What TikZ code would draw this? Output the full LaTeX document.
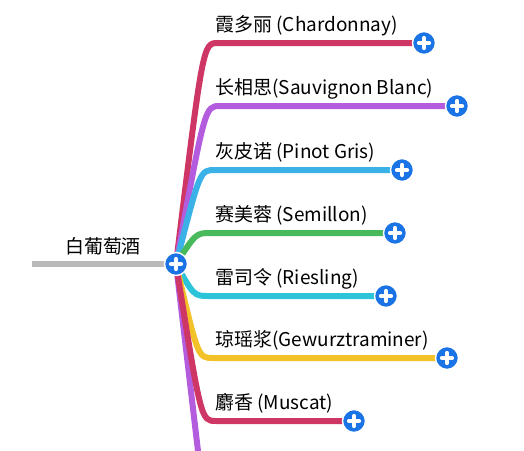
\documentclass[tikz,border=0pt]{standalone}
\usepackage{fontspec}
\newfontfamily\cjk{Noto Sans CJK SC}
\usetikzlibrary{backgrounds}
\definecolor{crimson}{RGB}{206,54,102}
\definecolor{violet}{RGB}{180,92,222}
\definecolor{skyblue}{RGB}{58,178,232}
\definecolor{leafgreen}{RGB}{72,186,92}
\definecolor{aqua}{RGB}{44,196,216}
\definecolor{amber}{RGB}{242,194,40}
\definecolor{btnblue}{RGB}{26,116,230}
\definecolor{rootgray}{RGB}{186,186,186}
\tikzset{
  branch/.style={line width=0.12cm},
  rootline/.style={line width=0.12cm, rootgray},
  plusbtn/.style={circle, fill=btnblue, draw=white, line width=0.8pt,
    minimum size=0.46cm, inner sep=0pt,
    path picture={
      \draw[white, line width=2.4pt, line cap=round]
        ([xshift=-0.1cm]path picture bounding box.center) -- ([xshift=0.1cm]path picture bounding box.center)
        ([yshift=-0.1cm]path picture bounding box.center) -- ([yshift=0.1cm]path picture bounding box.center);
    }},
  grape/.style={anchor=base west, inner sep=0pt}
}
\begin{document}
\begin{tikzpicture}[x=0.02cm, y=-0.02cm, line join=round, line cap=round, font=\cjk\fontsize{10.8}{13}\selectfont]
  \useasboundingbox (0,0) rectangle (524,450);
  \clip (0,0) rectangle (524,450);
  \coordinate (root) at (32,264);
  \coordinate (tail) at (200,468);
  \node[plusbtn] (hub) at (176,264) {};
  \node[anchor=base, inner sep=0pt] (wine) at (103,253) {白葡萄酒};
  \begin{scope}[on background layer]
    \draw[rootline] (root) -- (hub.center);
    \draw[branch, violet] (hub.center) -- (tail);
  \end{scope}
  \foreach \n/\y/\xe/\xc/\col/\txt in {
      chard/43/424/203/crimson/{霞多丽 (Chardonnay)},
      sauv/106/457/205/violet/{长相思(Sauvignon Blanc)},
      pinot/170/402/200/skyblue/{灰皮诺 (Pinot Gris)},
      semil/233/395/196/leafgreen/{赛美蓉 (Semillon)},
      ries/296/386/194/aqua/{雷司令 (Riesling)},
      gewu/358/447/198/amber/{琼瑶浆(Gewurztraminer)},
      musc/421/354/201/crimson/{麝香 (Muscat)}} {
    \node[plusbtn] (\n) at (\xe,\y) {};
    \coordinate (\n-bend) at (\xc,\y);
    \node[grape] (\n-txt) at (215,\y-12) {\txt};
    \begin{scope}[on background layer]
      \draw[branch, \col] (hub.center) .. controls (\n-bend) .. ([xshift=0.3cm]\n-bend) -- (\n.center);
    \end{scope}
  }
\end{tikzpicture}
\end{document}
